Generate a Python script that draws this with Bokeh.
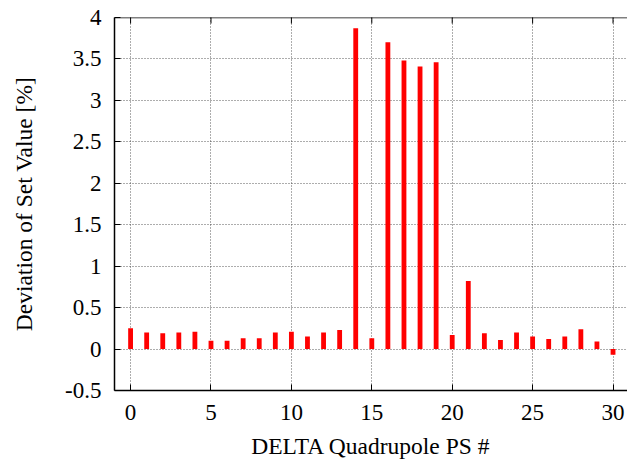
import math
from bokeh.plotting import figure
from bokeh.models import (ColumnDataSource, Range1d, FixedTicker, Span,
                          CustomJSTickFormatter)
from bokeh.embed import file_html
from bokeh.resources import INLINE

# Data
ps_number = [0, 1, 2, 3, 4, 5, 6, 7, 8, 9, 10, 11, 12, 13, 14, 15,
             16, 17, 18, 19, 20, 21, 22, 23, 24, 25, 26, 27, 28, 29, 30]
deviation = [0.25, 0.20, 0.19, 0.20, 0.21, 0.10, 0.10, 0.13, 0.13, 0.20,
             0.21, 0.15, 0.20, 0.23, 3.87, 0.13, 3.70, 3.48, 3.41, 3.46,
             0.17, 0.82, 0.19, 0.11, 0.20, 0.15, 0.12, 0.15, 0.24, 0.09,
             -0.07]
x_ticks = [0, 5, 10, 15, 20, 25, 30]
y_ticks = [-0.5, 0, 0.5, 1, 1.5, 2, 2.5, 3, 3.5, 4]
y_top = 4

FONT = "'Liberation Serif', serif"
FS = "23px"
LFS = "23.5px"

src = ColumnDataSource(data=dict(x=ps_number, top=deviation))

p = figure(width=627, height=461, output_backend="svg", toolbar_location=None,
           x_range=Range1d(-1, 30.9), y_range=Range1d(-0.5, 4),
           min_border_left=114, min_border_top=17, min_border_right=0,
           min_border_bottom=70, x_axis_label="DELTA Quadrupole PS #",
           y_axis_label="Deviation of Set Value [%]")

p.vbar(x="x", top="top", bottom=0, width=0.3, source=src,
       fill_color="#ff0000", line_color=None)

p.outline_line_color = None
p.background_fill_color = "white"
p.border_fill_color = "white"

fmt = CustomJSTickFormatter(code="return tick.toString();")

for ax, ticks in ((p.xaxis[0], x_ticks), (p.yaxis[0], y_ticks)):
    ax.ticker = FixedTicker(ticks=ticks)
    ax.formatter = fmt
    ax.major_tick_in = 6
    ax.major_tick_out = 0
    ax.minor_tick_line_color = None
    ax.axis_line_width = 1.5
    ax.axis_line_color = "black"
    ax.major_tick_line_color = "black"
    ax.major_label_text_font = FONT
    ax.major_label_text_font_size = FS
    ax.major_label_text_color = "black"
    ax.axis_label_text_font = FONT
    ax.axis_label_text_font_size = LFS
    ax.axis_label_text_font_style = "normal"
    ax.axis_label_text_color = "black"

p.xaxis[0].major_label_standoff = 14
p.xaxis[0].axis_label_standoff = 10
p.yaxis[0].major_label_standoff = 13
p.yaxis[0].axis_label_standoff = 25

# top border with inward (mirrored) ticks
p.add_layout(Span(location=y_top, dimension="width", line_color="black",
                  line_width=1.5))
p.scatter(x=x_ticks, y=[y_top] * len(x_ticks), marker="dash", size=12,
          angle=math.pi / 2, line_color="black", line_width=1)

for g, ticks in ((p.xgrid[0], x_ticks), (p.ygrid[0], y_ticks)):
    g.ticker = FixedTicker(ticks=ticks)
    g.grid_line_color = "#333333"
    g.grid_line_dash = "1 2"
    g.grid_line_width = 1
    g.grid_line_alpha = 0.8

open("out.html", "w").write(file_html(p, INLINE))
